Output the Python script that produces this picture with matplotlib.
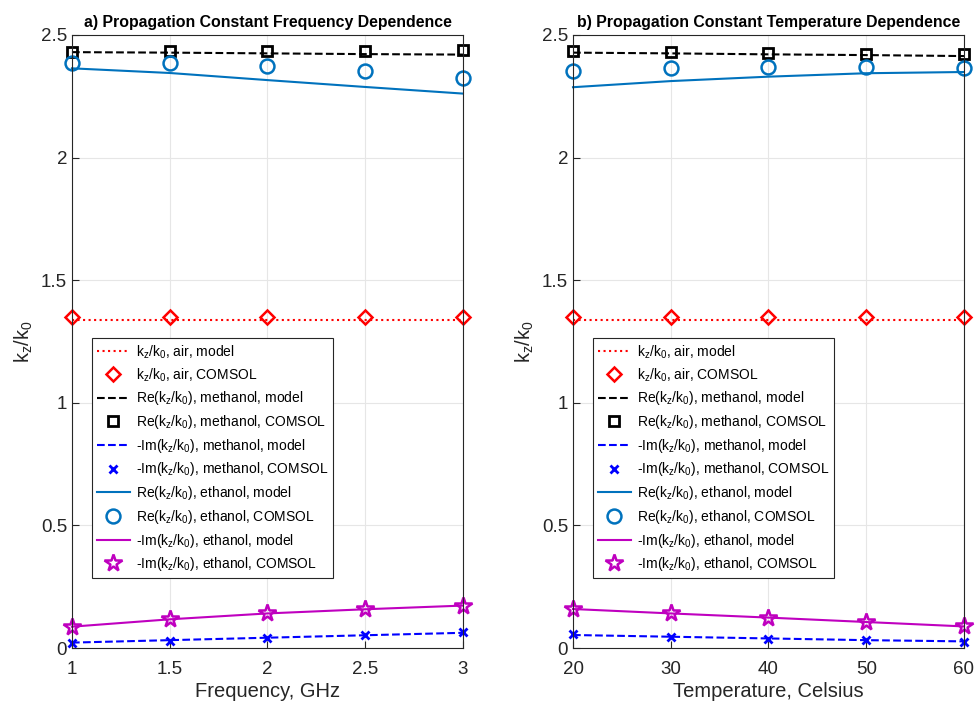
import matplotlib
matplotlib.use('Agg')
import matplotlib.pyplot as plt

plt.rcParams['font.family'] = ['Liberation Sans', 'DejaVu Sans']
plt.rcParams['mathtext.default'] = 'regular'

# frequency sweep, GHz
freq = [1, 1.5, 2, 2.5, 3]
freqAirModel = [1.338, 1.338, 1.338, 1.338, 1.338]
freqAirComsol = [1.35, 1.35, 1.35, 1.35, 1.35]
freqMethReModel = [2.430, 2.428, 2.425, 2.422, 2.420]
freqMethReComsol = [2.432, 2.436, 2.435, 2.436, 2.439]
freqMethImModel = [0.022, 0.032, 0.042, 0.052, 0.062]
freqMethImComsol = [0.019, 0.029, 0.041, 0.053, 0.064]
freqEthReModel = [2.364, 2.345, 2.316, 2.288, 2.261]
freqEthReComsol = [2.386, 2.386, 2.374, 2.353, 2.325]
freqEthImModel = [0.087, 0.117, 0.141, 0.158, 0.173]
freqEthImComsol = [0.087, 0.117, 0.141, 0.158, 0.173]

# temperature sweep, Celsius
temp = [20, 30, 40, 50, 60]
tempAirModel = [1.338, 1.338, 1.338, 1.338, 1.338]
tempAirComsol = [1.35, 1.35, 1.35, 1.35, 1.35]
tempMethReModel = [2.428, 2.425, 2.421, 2.418, 2.414]
tempMethReComsol = [2.436, 2.431, 2.427, 2.424, 2.421]
tempMethImModel = [0.053, 0.046, 0.039, 0.032, 0.027]
tempMethImComsol = [0.056, 0.046, 0.037, 0.031, 0.026]
tempEthReModel = [2.287, 2.312, 2.330, 2.344, 2.349]
tempEthReComsol = [2.352, 2.367, 2.371, 2.371, 2.367]
tempEthImModel = [0.159, 0.141, 0.124, 0.106, 0.088]
tempEthImComsol = [0.159, 0.141, 0.124, 0.106, 0.088]

legendLabels = [
    'k$_z$/k$_0$, air, model',
    'k$_z$/k$_0$, air, COMSOL',
    'Re(k$_z$/k$_0$), methanol, model',
    'Re(k$_z$/k$_0$), methanol, COMSOL',
    '-Im(k$_z$/k$_0$), methanol, model',
    '-Im(k$_z$/k$_0$), methanol, COMSOL',
    'Re(k$_z$/k$_0$), ethanol, model',
    'Re(k$_z$/k$_0$), ethanol, COMSOL',
    '-Im(k$_z$/k$_0$), ethanol, model',
    '-Im(k$_z$/k$_0$), ethanol, COMSOL',
]

matBlue = '#0072BD'
magenta = '#BF00BF'
darkGray = '#262626'


def DrawPanel(axes, x, series, title, xlabel, xticks):

    airM, airC, methRM, methRC, methIM, methIC, ethRM, ethRC, ethIM, ethIC = series

    axes.plot(x, airM, color='red', linestyle=':', linewidth=1.5, label=legendLabels[0])
    axes.plot(x, airC, linestyle='none', marker='D', markersize=7, markerfacecolor='none',
              markeredgecolor='red', markeredgewidth=1.8, label=legendLabels[1])
    axes.plot(x, methRM, color='black', linestyle='--', linewidth=1.5, label=legendLabels[2])
    axes.plot(x, methRC, linestyle='none', marker='s', markersize=7, markerfacecolor='none',
              markeredgecolor='black', markeredgewidth=2, label=legendLabels[3])
    axes.plot(x, methIM, color='blue', linestyle='--', linewidth=1.5, label=legendLabels[4])
    axes.plot(x, methIC, linestyle='none', marker='x', markersize=6, markeredgecolor='blue',
              markeredgewidth=2, label=legendLabels[5])
    axes.plot(x, ethRM, color=matBlue, linestyle='-', linewidth=1.5, label=legendLabels[6])
    axes.plot(x, ethRC, linestyle='none', marker='o', markersize=10, markerfacecolor='none',
              markeredgecolor=matBlue, markeredgewidth=1.8, label=legendLabels[7])
    axes.plot(x, ethIM, color=magenta, linestyle='-', linewidth=1.5, label=legendLabels[8])
    axes.plot(x, ethIC, linestyle='none', marker='*', markersize=13, markerfacecolor='none',
              markeredgecolor=magenta, markeredgewidth=1.8, label=legendLabels[9])

    axes.set_xlim(xticks[0], xticks[-1])
    axes.set_ylim(0, 2.5)
    axes.set_xticks(xticks)
    axes.set_xticklabels([('%g' % t) for t in xticks])
    axes.set_yticks([0, 0.5, 1, 1.5, 2, 2.5])
    axes.set_yticklabels(['0', '0.5', '1', '1.5', '2', '2.5'])
    axes.tick_params(direction='in', labelsize=13.5, colors=darkGray, length=5)
    axes.tick_params(axis='x', pad=9)
    axes.grid(True, color='#E6E6E6', linewidth=0.8)
    axes.set_axisbelow(True)
    for spine in axes.spines.values():
        spine.set_color(darkGray)
        spine.set_linewidth(0.8)

    axes.set_title(title, fontsize=11.4, fontweight='bold', pad=6)
    axes.set_xlabel(xlabel, fontsize=14.5, color=darkGray, labelpad=3)
    axes.set_ylabel('k$_z$/k$_0$', fontsize=14.5, color=darkGray)

    legend = axes.legend(loc='lower left', bbox_to_anchor=(0.051, 0.114), borderaxespad=0,
                         fontsize=10, fancybox=False, framealpha=1, edgecolor=darkGray,
                         handlelength=2.4, handletextpad=0.4, borderpad=0.35, labelspacing=0.41)
    legend.get_frame().set_linewidth(0.8)


figure = plt.figure(figsize=(9.75, 7.01), dpi=100)
leftAxes = figure.add_axes([0.0738, 0.0756, 0.401, 0.8745])
rightAxes = figure.add_axes([0.5877, 0.0756, 0.401, 0.8745])

DrawPanel(leftAxes, freq,
          [freqAirModel, freqAirComsol, freqMethReModel, freqMethReComsol, freqMethImModel,
           freqMethImComsol, freqEthReModel, freqEthReComsol, freqEthImModel, freqEthImComsol],
          'a) Propagation Constant Frequency Dependence', 'Frequency, GHz', [1, 1.5, 2, 2.5, 3])

DrawPanel(rightAxes, temp,
          [tempAirModel, tempAirComsol, tempMethReModel, tempMethReComsol, tempMethImModel,
           tempMethImComsol, tempEthReModel, tempEthReComsol, tempEthImModel, tempEthImComsol],
          'b) Propagation Constant Temperature Dependence', 'Temperature, Celsius', [20, 30, 40, 50, 60])

for axes in (leftAxes, rightAxes):
    for line in axes.get_lines():
        line.set_clip_on(False)

figure.savefig('out.png', dpi=100)
plt.close(figure)
